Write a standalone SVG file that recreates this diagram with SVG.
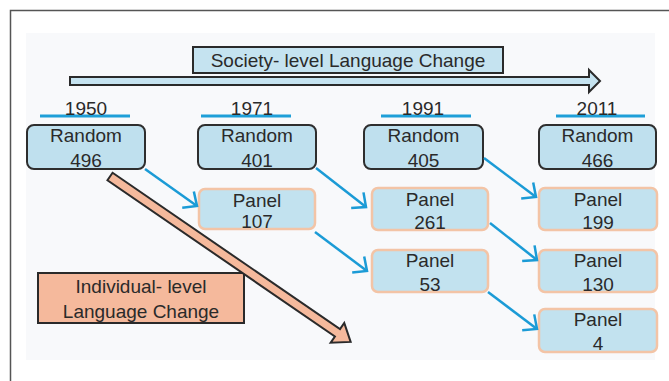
<svg xmlns="http://www.w3.org/2000/svg" width="669" height="381" viewBox="0 0 669 381">
  <defs>
    <style>
      text { font-family: "Liberation Sans", Arial, sans-serif; font-size: 19px; fill: #2a2a2a; text-anchor: middle; }
      .random { fill: #bfe0ee; stroke: #2e2e2e; stroke-width: 2; }
      .panel { fill: #c2e2ef; stroke: #f3c4a6; stroke-width: 2.5; }
      .year-line { stroke: #1e9fd8; stroke-width: 3; }
      .link { fill: none; stroke: #1b9bd6; stroke-width: 2.5; marker-end: url(#open-head); }
      .block { stroke: #2a2a2a; stroke-width: 2; stroke-linejoin: miter; }
    </style>
    <marker id="open-head" markerUnits="userSpaceOnUse" markerWidth="30" markerHeight="30" viewBox="-15 -15 30 30" refX="0" refY="0" orient="auto">
      <path d="M -11,-10 L 0,0 L -11,10" fill="none" stroke="#1b9bd6" stroke-width="2.5"/>
    </marker>
  </defs>

  <!-- page frame and panel background -->
  <rect x="0" y="0" width="669" height="381" fill="#ffffff"/>
  <path d="M 10.5 381 L 10.5 10.5 L 669 10.5" fill="none" stroke="#555555" stroke-width="1.5"/>
  <rect x="26" y="33" width="629" height="327" fill="#f8f9fb"/>

  <!-- society-level timeline -->
  <g id="society-arrow">
    <polygon class="block" fill="#c5e3f0" points="70,77 589,77 589,70 600,81 589,92 589,85 70,85"/>
  </g>
  <g id="society-label">
    <rect class="block" x="193" y="47" width="310" height="26" fill="#c5e3f0"/>
    <text x="348" y="67">Society- level Language Change</text>
  </g>

  <!-- survey years -->
  <g id="year-1950">
    <line class="year-line" x1="40" y1="116" x2="130" y2="116"/>
    <text x="86" y="115">1950</text>
  </g>
  <g id="year-1971">
    <line class="year-line" x1="201" y1="116" x2="291" y2="116"/>
    <text x="252" y="115">1971</text>
  </g>
  <g id="year-1991">
    <line class="year-line" x1="381" y1="116" x2="471" y2="116"/>
    <text x="423" y="115">1991</text>
  </g>
  <g id="year-2011">
    <line class="year-line" x1="556" y1="116" x2="645" y2="116"/>
    <text x="597" y="115">2011</text>
  </g>

  <!-- random samples -->
  <g id="random-1950">
    <rect class="random" x="27" y="125" width="118" height="44" rx="7"/>
    <text x="86" y="142">Random</text>
    <text x="86" y="167">496</text>
  </g>
  <g id="random-1971">
    <rect class="random" x="198" y="125" width="118" height="44" rx="7"/>
    <text x="257" y="142">Random</text>
    <text x="257" y="167">401</text>
  </g>
  <g id="random-1991">
    <rect class="random" x="364" y="125" width="119" height="44" rx="7"/>
    <text x="423.5" y="142">Random</text>
    <text x="423.5" y="167">405</text>
  </g>
  <g id="random-2011">
    <rect class="random" x="539" y="125" width="117" height="44" rx="7"/>
    <text x="597.5" y="142">Random</text>
    <text x="597.5" y="167">466</text>
  </g>

  <!-- panel samples -->
  <g id="panel-1971">
    <rect class="panel" x="199" y="189" width="116" height="40" rx="6"/>
    <text x="257" y="207">Panel</text>
    <text x="257" y="228">107</text>
  </g>
  <g id="panel-1991-a">
    <rect class="panel" x="372" y="188" width="116" height="42" rx="6"/>
    <text x="430" y="206">Panel</text>
    <text x="430" y="229">261</text>
  </g>
  <g id="panel-1991-b">
    <rect class="panel" x="372" y="250" width="116" height="42" rx="6"/>
    <text x="430" y="267">Panel</text>
    <text x="430" y="291">53</text>
  </g>
  <g id="panel-2011-a">
    <rect class="panel" x="539" y="188" width="118" height="42" rx="6"/>
    <text x="598" y="206">Panel</text>
    <text x="598" y="229">199</text>
  </g>
  <g id="panel-2011-b">
    <rect class="panel" x="539" y="250" width="118" height="42" rx="6"/>
    <text x="598" y="267">Panel</text>
    <text x="598" y="291">130</text>
  </g>
  <g id="panel-2011-c">
    <rect class="panel" x="539" y="309" width="118" height="43" rx="6"/>
    <text x="598" y="326">Panel</text>
    <text x="598" y="350">4</text>
  </g>

  <!-- follow-up links between waves -->
  <g id="connectors">
    <line class="link" x1="145" y1="169" x2="197" y2="206"/>
    <line class="link" x1="316" y1="168" x2="366" y2="207"/>
    <line class="link" x1="315" y1="232" x2="367" y2="271"/>
    <line class="link" x1="484" y1="158" x2="536" y2="197"/>
    <line class="link" x1="490" y1="223" x2="537" y2="260"/>
    <line class="link" x1="488" y1="292" x2="537" y2="329"/>
  </g>

  <!-- individual-level change -->
  <g id="individual-label">
    <rect class="block" x="38" y="273" width="206" height="50" fill="#f5b99c"/>
    <text x="141" y="293">Individual- level</text>
    <text x="141" y="318">Language Change</text>
  </g>
  <g id="individual-arrow">
    <polygon class="block" fill="#f5b99c" transform="translate(110,176.5) rotate(34.5)"
             points="0,-4.5 276,-4.5 276,-12 292,0 276,12 276,4.5 0,4.5"/>
  </g>
</svg>
